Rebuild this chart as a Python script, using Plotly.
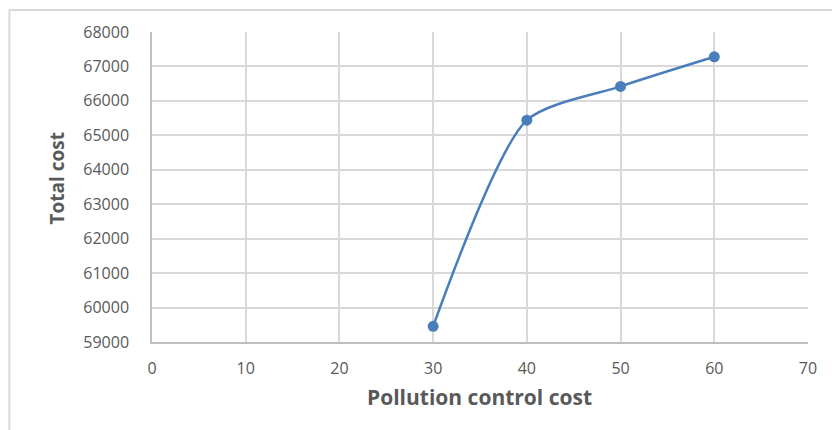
import plotly.graph_objects as go

pollution_cost = [30, 40, 50, 60]
total_cost = [59455, 65440, 66420, 67280]
x_title = "Pollution control cost"
y_title = "Total cost"

fig = go.Figure()
fig.add_trace(go.Scatter(
    x=pollution_cost, y=total_cost, mode="lines+markers",
    line=dict(color="#4a7ebb", width=2.5, shape="spline", smoothing=0.7),
    marker=dict(color="#4a7ebb", size=11),
    showlegend=False, hoverinfo="x+y",
))

tickfont = dict(family="Open Sans", size=16, color="#595959")
fig.update_layout(
    width=832, height=430,
    margin=dict(l=152, r=24, t=32, b=88),
    paper_bgcolor="white", plot_bgcolor="white",
    xaxis=dict(range=[0, 70], dtick=10, tick0=0, showgrid=True, gridcolor="#d9d9d9", gridwidth=1.5,
               zeroline=False, showline=True, linecolor="#bfbfbf", linewidth=1.5, mirror=False,
               tickfont=tickfont, ticks="", ticklabelstandoff=11),
    yaxis=dict(range=[59000, 68000], dtick=1000, showgrid=True, gridcolor="#d9d9d9", gridwidth=1.5,
               zeroline=False, showline=True, linecolor="#bfbfbf", linewidth=1.5,
               tickfont=tickfont, ticks="", ticklabelstandoff=18, tickformat="d"),
    annotations=[
        dict(text="<b>" + x_title + "</b>", xref="paper", yref="paper", x=(480 - 152.5) / 655.5, y=(341.7 - 397) / 309.7,
             showarrow=False, font=dict(family="Open Sans", size=21, color="#595959"),
             xanchor="center", yanchor="middle"),
        dict(text="<b>" + y_title + "</b>", xref="paper", yref="paper", x=(58 - 152.5) / 655.5, y=(341.7 - 178) / 309.7,
             showarrow=False, textangle=-90, font=dict(family="Open Sans", size=19, color="#595959"),
             xanchor="center", yanchor="middle"),
    ],
    shapes=[
        dict(type="line", xref="paper", yref="paper", x0=(10 - 152.5) / 655.5, x1=(834 - 152.5) / 655.5,
             y0=1 + 22 / 309.7, y1=1 + 22 / 309.7, line=dict(color="#d9d9d9", width=2)),
        dict(type="line", xref="paper", yref="paper", x0=(10 - 152.5) / 655.5, x1=(10 - 152.5) / 655.5,
             y0=1 + 22 / 309.7, y1=(341.7 - 432) / 309.7, line=dict(color="#d9d9d9", width=2)),
    ],
)
fig.write_html("out.html")
